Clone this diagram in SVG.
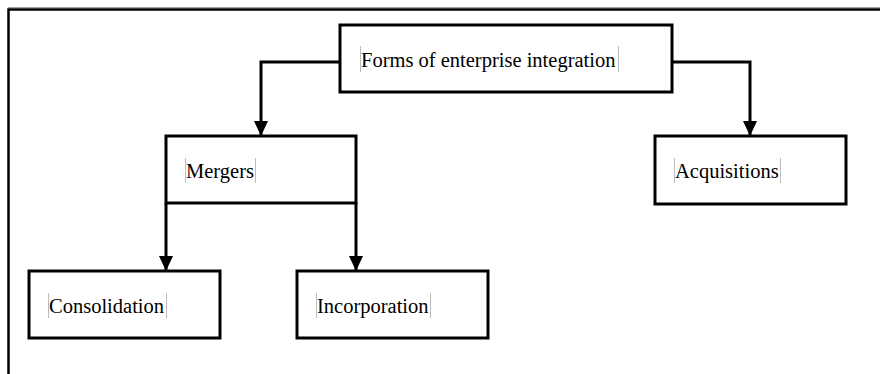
<svg xmlns="http://www.w3.org/2000/svg" width="880" height="374" viewBox="0 0 880 374">
<defs>
<style>
.box{fill:#fff;stroke:#000;stroke-width:3}
.lbl{font-family:"Liberation Serif","Times New Roman",serif;font-size:20.5px;fill:#000}
.mk{stroke:#bdbdbd;stroke-width:1}
.con{fill:none;stroke:#000;stroke-width:3}
.frame{fill:none;stroke:#000;stroke-width:2.5}
</style>
<marker id="ah" markerWidth="15" markerHeight="14" refX="15" refY="7" orient="auto" markerUnits="userSpaceOnUse">
<path d="M0,0 L15,7 L0,14 Z" fill="#000"/>
</marker>
</defs>
<rect width="880" height="374" fill="#fff"/>
<g id="frame">
<line x1="8" y1="7.5" x2="880" y2="7.5" stroke="#a0a0a0" stroke-width="1"/>
<polyline class="frame" points="8.5,374 8.5,9.5 880,9.5"/>
</g>
<g id="connectors">
<polyline class="con" points="340,62 261,62 261,136" marker-end="url(#ah)"/>
<polyline class="con" points="672,62 750,62 750,136" marker-end="url(#ah)"/>
<line class="con" x1="166" y1="203" x2="166" y2="271" marker-end="url(#ah)"/>
<line class="con" x1="356" y1="203" x2="356" y2="271" marker-end="url(#ah)"/>
</g>
<g id="node-forms">
<rect class="box" x="340" y="25" width="332" height="67"/>
<line class="mk" x1="360.5" y1="46" x2="360.5" y2="72"/>
<text class="lbl" x="361" y="67">Forms of enterprise integration</text>
<line class="mk" x1="618.5" y1="46" x2="618.5" y2="72"/>
</g>
<g id="node-mergers">
<rect class="box" x="166" y="136" width="190" height="67"/>
<line class="mk" x1="185.5" y1="158" x2="185.5" y2="183"/>
<text class="lbl" x="186" y="178">Mergers</text>
<line class="mk" x1="255.5" y1="158" x2="255.5" y2="183"/>
</g>
<g id="node-acquisitions">
<rect class="box" x="655" y="136" width="191" height="68"/>
<line class="mk" x1="674.5" y1="158" x2="674.5" y2="183"/>
<text class="lbl" x="675" y="178">Acquisitions</text>
<line class="mk" x1="780.5" y1="158" x2="780.5" y2="183"/>
</g>
<g id="node-consolidation">
<rect class="box" x="29" y="271" width="191" height="67"/>
<line class="mk" x1="48.5" y1="293" x2="48.5" y2="318"/>
<text class="lbl" x="49" y="313">Consolidation</text>
<line class="mk" x1="166.5" y1="293" x2="166.5" y2="318"/>
</g>
<g id="node-incorporation">
<rect class="box" x="297" y="271" width="191" height="67"/>
<line class="mk" x1="316.5" y1="293" x2="316.5" y2="318"/>
<text class="lbl" x="317" y="313">Incorporation</text>
<line class="mk" x1="430.5" y1="293" x2="430.5" y2="318"/>
</g>
</svg>
